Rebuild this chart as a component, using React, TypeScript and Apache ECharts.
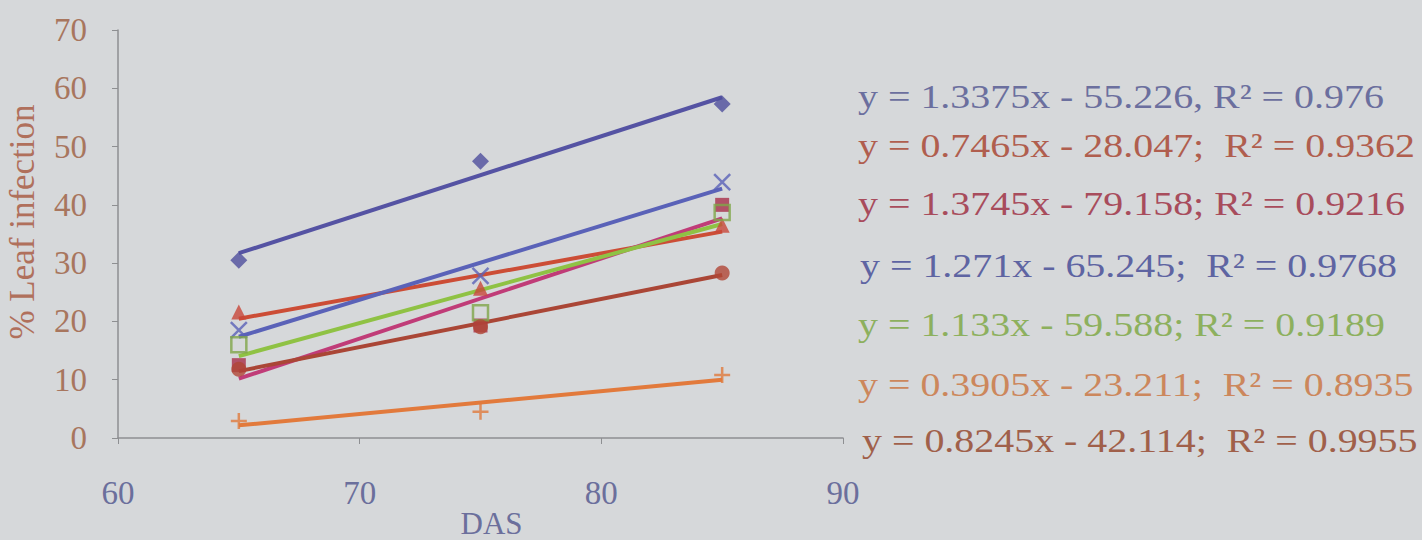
import React, { useEffect, useRef } from "react";
import * as echarts from "echarts";

const das = [65, 75, 85];
const xTicks = [60, 70, 80, 90];
const yTicks = [0, 10, 20, 30, 40, 50, 60, 70];

const sDiamond = [30.5, 47.5, 57.3];
const sTriangle = [21.6, 25.7, 36.5];
const sFilledSquare = [12.5, 19.3, 40.0];
const sCross = [18.5, 27.8, 43.9];
const sOpenSquare = [16.0, 21.5, 38.7];
const sPlus = [2.9, 4.5, 10.8];
const sCircle = [11.8, 19.1, 28.3];

const slopes = [1.3375, 0.7465, 1.3745, 1.271, 1.133, 0.3905, 0.8245];
const intercepts = [-55.226, -28.047, -79.158, -65.245, -59.588, -23.211, -42.114];
const equations = [
  "y = 1.3375x - 55.226, R² = 0.976",
  "y = 0.7465x - 28.047;  R² = 0.9362",
  "y = 1.3745x - 79.158; R² = 0.9216",
  "y = 1.271x - 65.245;  R² = 0.9768",
  "y = 1.133x - 59.588; R² = 0.9189",
  "y = 0.3905x - 23.211;  R² = 0.8935",
  "y = 0.8245x - 42.114;  R² = 0.9955",
];

const FONT = "'Liberation Serif', 'DejaVu Serif', serif";

export default function App() {
  const ref = useRef<HTMLDivElement>(null);
  useEffect(() => {
    if (!ref.current) return;
    const chart = echarts.init(ref.current, undefined, { renderer: "svg" });
    const pointSets = [sDiamond, sTriangle, sFilledSquare, sCross, sOpenSquare, sPlus, sCircle];
    const lineColors = ["#5553a3", "#cc4d36", "#c03c78", "#5a62b8", "#8fc244", "#e27a3c", "#aa4636"];
    const markColors = ["#4f4f9c", "#c8473a", "#a8304a", "#5a62b8", "#7fa648", "#e07a3c", "#b04636"];
    const eqColors = ["#6b6f9e", "#b05e4e", "#a84c5c", "#5e64a2", "#8db05e", "#cc875c", "#a0604a"];
    const eqY = [97, 146, 204, 266, 325, 385, 441];
    const eqX = [858, 858, 858, 860, 858, 858, 862];
    const symbols: any[] = [
      { symbol: "diamond", size: 17, filled: true },
      { symbol: "triangle", size: 15, filled: true },
      { symbol: "rect", size: 14, filled: true },
      { symbol: "path://M0,0L10,10M10,0L0,10", size: 16, filled: false },
      { symbol: "rect", size: 15, filled: false },
      { symbol: "path://M5,0L5,10M0,5L10,5", size: 16, filled: false },
      { symbol: "circle", size: 15, filled: true },
    ];
    const series: any[] = [];
    const xEnds = [das[0], das[das.length - 1]];
    pointSets.forEach((pts, i) => {
      series.push({
        type: "line",
        data: xEnds.map((x) => [x, slopes[i] * x + intercepts[i]]),
        showSymbol: false,
        symbol: "none",
        lineStyle: { color: lineColors[i], width: 4 },
        z: 2,
      });
    });
    pointSets.forEach((pts, i) => {
      const s = symbols[i];
      series.push({
        type: "scatter",
        data: das.map((x, k) => [x, pts[k]]),
        symbol: s.symbol,
        symbolSize: s.size,
        itemStyle: s.filled
          ? { color: markColors[i] }
          : { color: "none", borderColor: markColors[i], borderWidth: 2.5 },
        z: 3,
      });
    });
    chart.setOption({
      animation: false,
      backgroundColor: "#d6d8da",
      grid: { left: 118, right: 579, top: 30, bottom: 102, containLabel: false, outerBoundsMode: "none" },
      xAxis: {
        type: "value",
        min: xTicks[0],
        max: xTicks[xTicks.length - 1],
        interval: 10,
        name: "DAS",
        nameLocation: "middle",
        nameGap: 70,
        nameMoveOverlap: false,
        nameTextStyle: { fontFamily: FONT, fontSize: 31, color: "#6b6f9c", padding: [0, 0, 0, 22] },
        axisLine: { show: true, lineStyle: { color: "#8e8f92", width: 1.5 } },
        axisTick: { show: true, length: 6, lineStyle: { color: "#8e8f92" } },
        splitLine: { show: false },
        axisLabel: { fontFamily: FONT, fontSize: 33, color: "#6b6f9c", margin: 38 },
      },
      yAxis: {
        type: "value",
        min: yTicks[0],
        max: yTicks[yTicks.length - 1],
        interval: 10,
        name: "% Leaf infection",
        nameLocation: "middle",
        nameGap: 78,
        nameMoveOverlap: false,
        nameTextStyle: { fontFamily: FONT, fontSize: 35, color: "#b0705c", padding: [0, 0, 0, 24] },
        axisLine: { show: true, lineStyle: { color: "#8e8f92", width: 1.5 } },
        axisTick: { show: true, length: 6, lineStyle: { color: "#8e8f92" } },
        splitLine: { show: false },
        axisLabel: { fontFamily: FONT, fontSize: 33, color: "#a8765e", margin: 31 },
      },
      graphic: equations.map((t, i) => ({
        type: "text",
        x: eqX[i],
        y: eqY[i],
        scaleX: 1.21,
        style: {
          text: t,
          fontFamily: FONT,
          fontSize: 33,
          fill: eqColors[i],
          textVerticalAlign: "middle",
          verticalAlign: "middle",
        },
      })),
      series,
    });
    return () => chart.dispose();
  }, []);
  return (
    <div
      ref={ref}
      style={{ position: "fixed", left: 0, top: 0, width: 1422, height: 540 }}
    />
  );
}
